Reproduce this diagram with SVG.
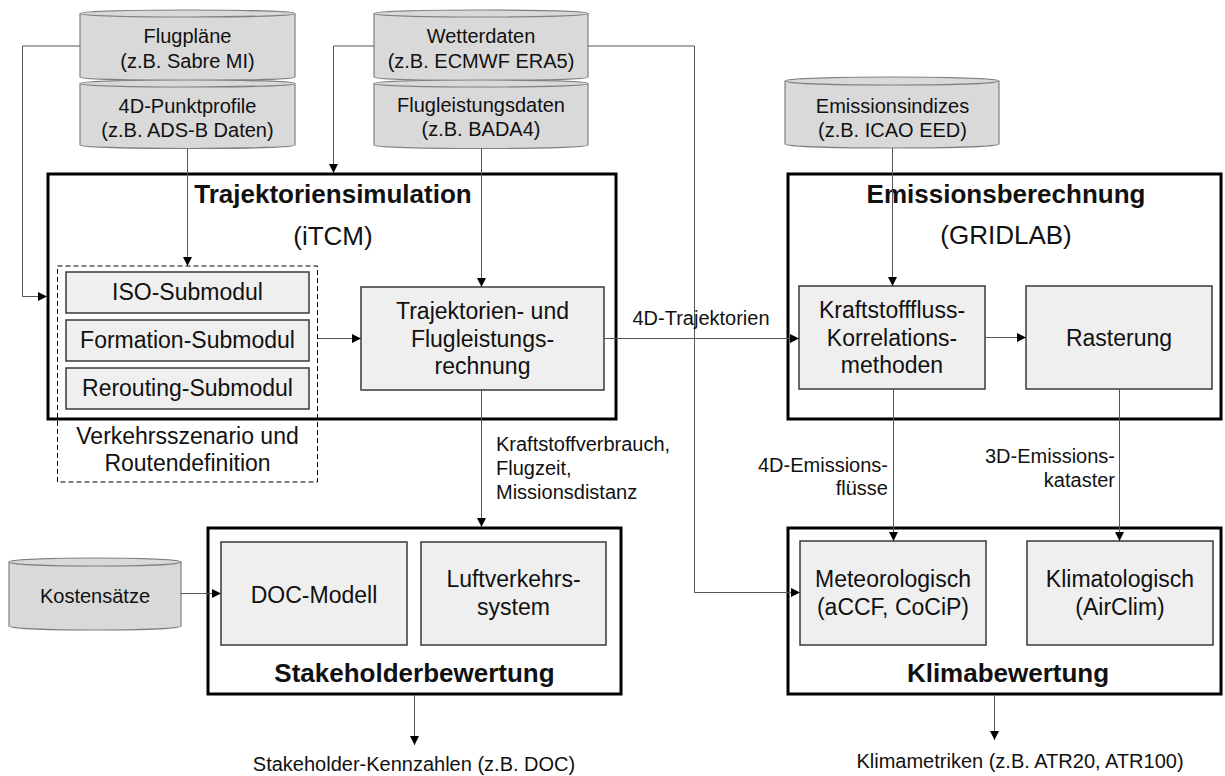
<svg xmlns="http://www.w3.org/2000/svg" width="1225" height="776" viewBox="0 0 1225 776">
<defs>
<style>
text{font-family:"Liberation Sans",Arial,sans-serif;fill:#111}
.cyl{fill:#d9d9d9;stroke:#808080;stroke-width:1.2}
.t20{font-size:20px}
.t23{font-size:23px}
.t26{font-size:26px}
.b26{font-size:26px;font-weight:bold}
.mid{text-anchor:middle}
.end{text-anchor:end}
.box{fill:#efefef;stroke:#3a3a3a;stroke-width:1.5}
.big{fill:#fff;stroke:#000;stroke-width:3}
.dash{fill:none;stroke:#000;stroke-width:1;stroke-dasharray:5 3}
.con{fill:none;stroke:#555;stroke-width:1}
.arr{fill:none;stroke:#555;stroke-width:1;marker-end:url(#ah)}
</style>
<marker id="ah" markerUnits="userSpaceOnUse" markerWidth="9" markerHeight="10" refX="9" refY="5" orient="auto">
<path d="M0,0.5 L9,5 L0,9.5 z" fill="#000"/>
</marker>
</defs>

<g id="traj">
<rect class="big" x="48" y="174" width="568" height="245"/>
<text class="b26 mid" x="333" y="203">Trajektoriensimulation</text>
<text class="t26 mid" x="333" y="245">(iTCM)</text>
</g>
<g id="emis">
<rect class="big" x="788" y="174" width="433" height="245"/>
<text class="b26 mid" x="1006" y="203">Emissionsberechnung</text>
<text class="t26 mid" x="1006" y="244">(GRIDLAB)</text>
</g>
<g id="stake">
<rect class="big" x="208" y="528" width="413" height="166"/>
<text class="b26 mid" x="414.5" y="682">Stakeholderbewertung</text>
</g>
<g id="klima">
<rect class="big" x="788" y="528" width="433" height="166"/>
<text class="b26 mid" x="1008" y="682">Klimabewertung</text>
</g>

<g id="flugplaene">
<path class="cyl" d="M80,13.5 L80,77 A107.5,3.5 0 0 0 295,77 L295,13.5"/>
<ellipse class="cyl" cx="187.5" cy="13.5" rx="107.5" ry="3.5"/>
<text class="t20 mid" x="187.5" y="43">Flugpläne</text>
<text class="t20 mid" x="187.5" y="68">(z.B. Sabre MI)</text>
</g>
<g id="punktprofile">
<path class="cyl" d="M80,83.5 L80,145 A107.5,3.5 0 0 0 295,145 L295,83.5"/>
<ellipse class="cyl" cx="187.5" cy="83.5" rx="107.5" ry="3.5"/>
<text class="t20 mid" x="187.5" y="113">4D-Punktprofile</text>
<text class="t20 mid" x="187.5" y="137">(z.B. ADS-B Daten)</text>
</g>
<g id="wetter">
<path class="cyl" d="M374,13.5 L374,77 A107,3.5 0 0 0 588,77 L588,13.5"/>
<ellipse class="cyl" cx="481" cy="13.5" rx="107" ry="3.5"/>
<text class="t20 mid" x="481" y="43">Wetterdaten</text>
<text class="t20 mid" x="481" y="68">(z.B. ECMWF ERA5)</text>
</g>
<g id="flugleistung">
<path class="cyl" d="M374,83.5 L374,145 A107,3.5 0 0 0 588,145 L588,83.5"/>
<ellipse class="cyl" cx="481" cy="83.5" rx="107" ry="3.5"/>
<text class="t20 mid" x="481" y="112">Flugleistungsdaten</text>
<text class="t20 mid" x="481" y="136">(z.B. BADA4)</text>
</g>
<g id="emissionsindizes">
<path class="cyl" d="M785,81 L785,144 A107,4 0 0 0 999,144 L999,81"/>
<ellipse class="cyl" cx="892" cy="81" rx="107" ry="4"/>
<text class="t20 mid" x="892.5" y="113">Emissionsindizes</text>
<text class="t20 mid" x="892.5" y="137">(z.B. ICAO EED)</text>
</g>
<g id="kosten">
<path class="cyl" d="M9,562 L9,626 A86,4 0 0 0 181,626 L181,562"/>
<ellipse class="cyl" cx="95" cy="562" rx="86" ry="4"/>
<text class="t20 mid" x="95" y="603">Kostensätze</text>
</g>

<g id="verkehr">
<rect class="dash" x="57.5" y="266" width="260" height="216"/>
<text class="t23 mid" x="187.5" y="444">Verkehrsszenario und</text>
<text class="t23 mid" x="187.5" y="471">Routendefinition</text>
</g>
<g id="iso">
<rect class="box" x="66" y="272" width="243" height="41"/>
<text class="t23 mid" x="187.5" y="300">ISO-Submodul</text>
</g>
<g id="formation">
<rect class="box" x="66" y="320" width="243" height="41"/>
<text class="t23 mid" x="187.5" y="348">Formation-Submodul</text>
</g>
<g id="rerouting">
<rect class="box" x="66" y="368" width="243" height="41"/>
<text class="t23 mid" x="187.5" y="396">Rerouting-Submodul</text>
</g>
<g id="trajrechnung">
<rect class="box" x="361" y="287" width="243" height="103"/>
<text class="t23 mid" x="482.5" y="319">Trajektorien- und</text>
<text class="t23 mid" x="482.5" y="347">Flugleistungs-</text>
<text class="t23 mid" x="482.5" y="374">rechnung</text>
</g>
<g id="kraftstofffluss">
<rect class="box" x="799" y="286" width="186" height="103"/>
<text class="t23 mid" x="892" y="318">Kraftstofffluss-</text>
<text class="t23 mid" x="892" y="346">Korrelations-</text>
<text class="t23 mid" x="892" y="373">methoden</text>
</g>
<g id="rasterung">
<rect class="box" x="1026" y="286" width="186" height="103"/>
<text class="t23 mid" x="1119" y="346">Rasterung</text>
</g>
<g id="doc">
<rect class="box" x="221" y="542" width="186" height="103"/>
<text class="t23 mid" x="314" y="603">DOC-Modell</text>
</g>
<g id="luftverkehr">
<rect class="box" x="421" y="542" width="185" height="103"/>
<text class="t23 mid" x="513.5" y="587">Luftverkehrs-</text>
<text class="t23 mid" x="513.5" y="615">system</text>
</g>
<g id="meteo">
<rect class="box" x="800" y="541" width="186" height="104"/>
<text class="t23 mid" x="893" y="587">Meteorologisch</text>
<text class="t23 mid" x="893" y="615">(aCCF, CoCiP)</text>
</g>
<g id="klimato">
<rect class="box" x="1027" y="541" width="186" height="104"/>
<text class="t23 mid" x="1120" y="587">Klimatologisch</text>
<text class="t23 mid" x="1120" y="615">(AirClim)</text>
</g>

<g id="connectors">
<path class="arr" d="M80,46 H22.5 V296.5 H47"/>
<path class="arr" d="M374,46 H333.5 V173"/>
<path class="arr" d="M588,46 H694.5 V592.5 H800"/>
<path class="arr" d="M187.5,148 V266"/>
<path class="arr" d="M481.5,148 V287"/>
<path class="arr" d="M318,338.5 H361"/>
<path class="arr" d="M604,338.5 H799"/>
<path class="arr" d="M892.5,148 V286"/>
<path class="arr" d="M985,337.5 H1026"/>
<path class="arr" d="M481.5,390 V527"/>
<path class="arr" d="M181,593.5 H221"/>
<path class="arr" d="M893.5,389 V541"/>
<path class="arr" d="M1119.5,389 V541"/>
<path class="arr" d="M414.5,695 V745"/>
<path class="arr" d="M994.5,695 V740"/>
<text class="t20 mid" x="701" y="325">4D-Trajektorien</text>
<text class="t20" x="496" y="451">Kraftstoffverbrauch,</text>
<text class="t20" x="496" y="475">Flugzeit,</text>
<text class="t20" x="496" y="499">Missionsdistanz</text>
<text class="t20 end" x="888" y="472">4D-Emissions-</text>
<text class="t20 end" x="888" y="495">flüsse</text>
<text class="t20 end" x="1115" y="463">3D-Emissions-</text>
<text class="t20 end" x="1115" y="487">kataster</text>
<text class="t20 mid" x="414" y="771">Stakeholder-Kennzahlen (z.B. DOC)</text>
<text class="t20 mid" x="1020" y="768">Klimametriken (z.B. ATR20, ATR100)</text>
</g>
</svg>
